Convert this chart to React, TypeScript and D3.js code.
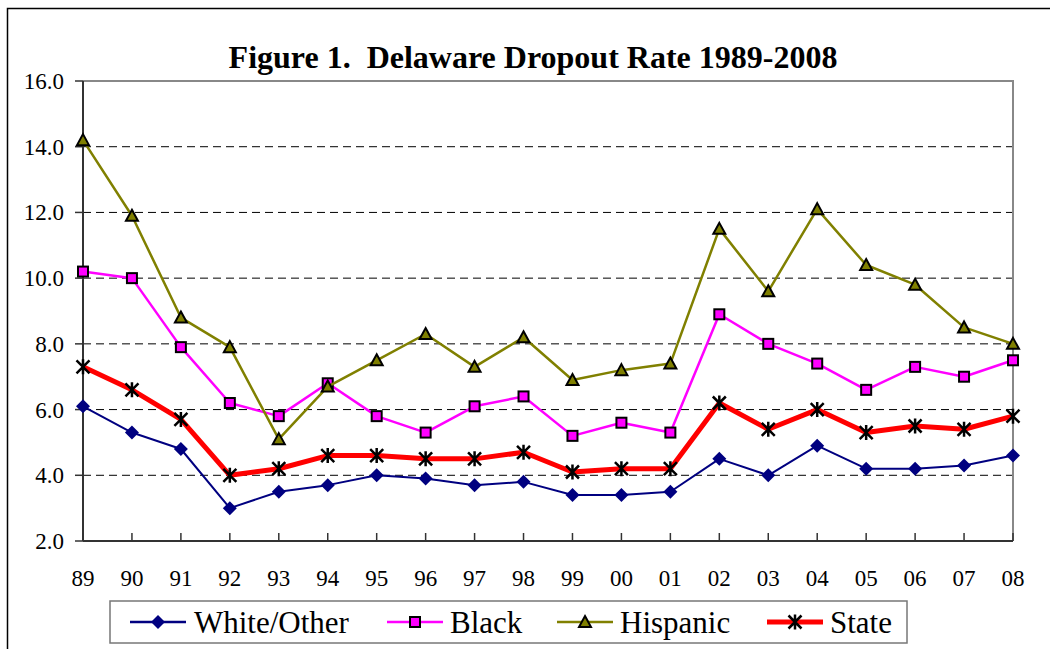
import React, { useEffect, useRef } from "react";
import * as d3 from "d3";

// school years, 1989 .. 2008
const years = ["89", "90", "91", "92", "93", "94", "95", "96", "97", "98", "99", "00", "01", "02", "03", "04", "05", "06", "07", "08"];
const white = [6.1, 5.3, 4.8, 3.0, 3.5, 3.7, 4.0, 3.9, 3.7, 3.8, 3.4, 3.4, 3.5, 4.5, 4.0, 4.9, 4.2, 4.2, 4.3, 4.6];
const black = [10.2, 10.0, 7.9, 6.2, 5.8, 6.8, 5.8, 5.3, 6.1, 6.4, 5.2, 5.6, 5.3, 8.9, 8.0, 7.4, 6.6, 7.3, 7.0, 7.5];
const hispanic = [14.2, 11.9, 8.8, 7.9, 5.1, 6.7, 7.5, 8.3, 7.3, 8.2, 6.9, 7.2, 7.4, 11.5, 9.6, 12.1, 10.4, 9.8, 8.5, 8.0];
const state = [7.3, 6.6, 5.7, 4.0, 4.2, 4.6, 4.6, 4.5, 4.5, 4.7, 4.1, 4.2, 4.2, 6.2, 5.4, 6.0, 5.3, 5.5, 5.4, 5.8];
const yTicks = [2, 4, 6, 8, 10, 12, 14, 16];

const series = [
  { name: "White/Other", values: white, color: "#000080", width: 2, marker: "diamond" },
  { name: "Black", values: black, color: "#FF00FF", width: 2.5, marker: "square" },
  { name: "Hispanic", values: hispanic, color: "#808000", width: 2.5, marker: "triangle" },
  { name: "State", values: state, color: "#FF0000", width: 5, marker: "star" },
];

const legendPos = [
  { line: 130, text: 194 },
  { line: 387, text: 450 },
  { line: 557, text: 620 },
  { line: 767, text: 830 },
];

function drawMarker(g: any, kind: string, x: number, y: number, color: string) {
  if (kind === "diamond") {
    g.append("path")
      .attr("d", `M${x},${y - 7}L${x + 7},${y}L${x},${y + 7}L${x - 7},${y}Z`)
      .attr("fill", color);
  } else if (kind === "square") {
    g.append("rect")
      .attr("x", x - 5).attr("y", y - 5).attr("width", 10).attr("height", 10)
      .attr("fill", color).attr("stroke", "#000").attr("stroke-width", 2);
  } else if (kind === "triangle") {
    g.append("path")
      .attr("d", `M${x},${y - 6}L${x + 6},${y + 5}L${x - 6},${y + 5}Z`)
      .attr("fill", color).attr("stroke", "#000").attr("stroke-width", 2);
  } else {
    const r = 6.5;
    g.append("path")
      .attr("d", `M${x - r},${y - r}L${x + r},${y + r}M${x - r},${y + r}L${x + r},${y - r}M${x},${y - r - 1}L${x},${y + r + 1}`)
      .attr("stroke", "#000").attr("stroke-width", 2.5).attr("fill", "none");
  }
}

export default function App() {
  const ref = useRef<SVGSVGElement>(null);

  useEffect(() => {
    const svg = d3.select(ref.current);
    svg.selectAll("*").remove();
    const font = "Liberation Serif";

    const left = 83, right = 1013, top = 81, bottom = 541;
    const x = d3.scalePoint().domain(years).range([left, right]);
    const y = d3.scaleLinear().domain([2, 16]).range([bottom, top]);

    // outer frame
    svg.append("rect")
      .attr("x", 7.5).attr("y", 8.5).attr("width", 1060).attr("height", 660)
      .attr("fill", "#fff").attr("stroke", "#000").attr("stroke-width", 1.5);

    svg.append("text")
      .attr("x", 533).attr("y", 68)
      .attr("text-anchor", "middle")
      .attr("font-family", font).attr("font-weight", "bold").attr("font-size", 32)
      .style("white-space", "pre")
      .text("Figure 1.  Delaware Dropout Rate 1989-2008");

    // gridlines
    svg.append("g").selectAll("line")
      .data(yTicks.filter(d => d > 2 && d < 16))
      .enter().append("line")
      .attr("x1", left).attr("x2", right)
      .attr("y1", d => y(d)).attr("y2", d => y(d))
      .attr("stroke", "#000").attr("stroke-width", 1)
      .attr("stroke-dasharray", "8,5");

    // plot border (top & right)
    svg.append("path")
      .attr("d", `M${left},${top}H${right}V${bottom}`)
      .attr("fill", "none").attr("stroke", "#888").attr("stroke-width", 2);

    // y axis
    const yAxis = svg.append("g");
    yAxis.append("line").attr("x1", left).attr("x2", left).attr("y1", top).attr("y2", bottom)
      .attr("stroke", "#333").attr("stroke-width", 2);
    yTicks.forEach(t => {
      yAxis.append("line").attr("x1", left - 8).attr("x2", left).attr("y1", y(t)).attr("y2", y(t))
        .attr("stroke", "#333").attr("stroke-width", 1.5);
      yAxis.append("text").attr("x", 64).attr("y", y(t) + 8)
        .attr("text-anchor", "end").attr("font-family", font).attr("font-size", 23)
        .text(d3.format(".1f")(t));
    });

    // x axis
    const xAxis = svg.append("g");
    xAxis.append("line").attr("x1", left).attr("x2", right).attr("y1", bottom).attr("y2", bottom)
      .attr("stroke", "#333").attr("stroke-width", 2);
    years.forEach(yr => {
      const px = x(yr) as number;
      xAxis.append("line").attr("x1", px).attr("x2", px).attr("y1", bottom - 8).attr("y2", bottom)
        .attr("stroke", "#333").attr("stroke-width", 1.5);
      xAxis.append("text").attr("x", px).attr("y", 586)
        .attr("text-anchor", "middle").attr("font-family", font).attr("font-size", 23)
        .text(yr);
    });

    const line = d3.line<number>()
      .x((_, i) => x(years[i]) as number)
      .y(d => y(d));

    series.forEach(s => {
      const g = svg.append("g");
      g.append("path").datum(s.values).attr("d", line)
        .attr("fill", "none").attr("stroke", s.color).attr("stroke-width", s.width)
        .attr("stroke-linejoin", "round");
      s.values.forEach((v, i) => drawMarker(g, s.marker, x(years[i]) as number, y(v), s.color));
    });

    // legend
    const lg = svg.append("g");
    lg.append("rect").attr("x", 110).attr("y", 601).attr("width", 797).attr("height", 42)
      .attr("fill", "#fff").attr("stroke", "#777").attr("stroke-width", 1.5);
    series.forEach((s, i) => {
      const p = legendPos[i];
      const ly = 622;
      lg.append("line").attr("x1", p.line).attr("x2", p.line + 56).attr("y1", ly).attr("y2", ly)
        .attr("stroke", s.color).attr("stroke-width", s.width === 5 ? 5 : 2.5);
      drawMarker(lg, s.marker, p.line + 28, ly, s.color);
      lg.append("text").attr("x", p.text).attr("y", 633)
        .attr("font-family", font).attr("font-size", 31)
        .text(s.name);
    });
  }, []);

  return <svg ref={ref} width={1050} height={649} style={{ position: "absolute", left: 0, top: 0 }} />;
}
